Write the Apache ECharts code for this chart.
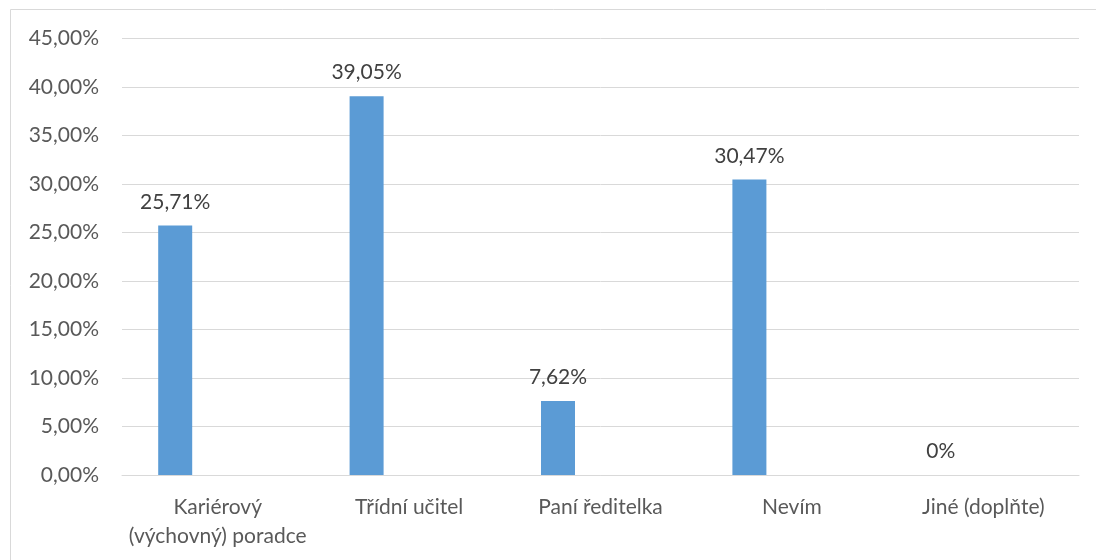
<!DOCTYPE html>
<html>
<head>
<meta charset="utf-8">
<script src="https://cdn.jsdelivr.net/npm/echarts@6/dist/echarts.min.js"></script>
<style>
html,body{margin:0;padding:0;background:#fff;}
#chart{width:1096px;height:560px;}
</style>
</head>
<body>
<div id="chart"></div>
<script>
const categories = ['Kariérový (výchovný) poradce', 'Třídní učitel', 'Paní ředitelka', 'Nevím', 'Jiné (doplňte)'];
const values = [25.71, 39.05, 7.62, 30.47, 0];
const placeholder = [null, null, null, null, null];
const yTicks = { min: 0, max: 45, interval: 5 };

const FONT = 'Lato';
const chart = echarts.init(document.getElementById('chart'));
const pct = v => v.toFixed(2).replace('.', ',') + '%';

chart.setOption({
  animation: false,
  graphic: [{
    type: 'rect',
    shape: { x: 10.5, y: 9.5, width: 1200, height: 700 },
    style: { fill: 'none', stroke: '#d9d9d9', lineWidth: 1 },
    silent: true
  }],
  grid: { left: 122, right: 17, top: 38.5, bottom: 85, containLabel: false },
  xAxis: {
    type: 'category',
    data: categories,
    axisLine: { show: true, lineStyle: { color: '#d9d9d9', width: 1 } },
    axisTick: { show: false },
    axisLabel: {
      fontFamily: FONT, fontSize: 21, color: '#595959', margin: 18, lineHeight: 29,
      interval: 0,
      formatter: v => v === categories[0] ? v.replace(' ', '\n') : v
    }
  },
  yAxis: {
    type: 'value',
    min: yTicks.min, max: yTicks.max, interval: yTicks.interval,
    axisLine: { show: false },
    axisTick: { show: false },
    splitLine: { lineStyle: { color: '#d9d9d9', width: 1 } },
    axisLabel: {
      fontFamily: FONT, fontSize: 21, color: '#595959', margin: 23,
      formatter: v => pct(v)
    }
  },
  series: [
    {
      type: 'bar',
      data: values,
      barWidth: 34,
      barGap: '150%',
      itemStyle: { color: '#5b9bd5' },
      label: {
        show: true, position: 'top', distance: 13,
        fontFamily: FONT, fontSize: 21, color: '#404040',
        formatter: p => p.value === 0 ? '0%' : pct(p.value)
      }
    },
    {
      type: 'bar',
      data: placeholder,
      barWidth: 34,
      itemStyle: { color: '#ed7d31' }
    }
  ]
});
</script>
</body>
</html>
